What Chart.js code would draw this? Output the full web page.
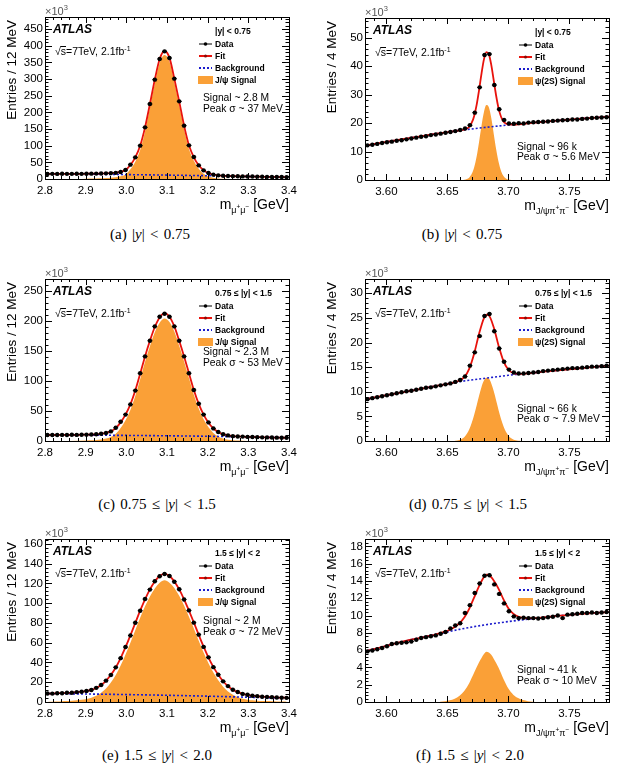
<!DOCTYPE html>
<html>
<head>
<meta charset="utf-8">
<title>J/psi and psi(2S) mass fits</title>
<script src="https://cdn.jsdelivr.net/npm/chart.js@4.4.1/dist/chart.umd.min.js"></script>
<style>
  html, body { margin: 0; padding: 0; background: #fff; }
  body { width: 617px; height: 767px; position: relative; overflow: hidden; }
  canvas { position: absolute; }
  .cap { position: absolute; font-family: 'Liberation Serif', 'Times New Roman', serif; font-size: 15px; word-spacing: 1.5px; color: #000; white-space: nowrap; transform: translateX(-50%); }
</style>
</head>
<body>
<div class="cap" style="left:150px;top:226px">(a) |<i>y</i>| &lt; 0.75</div>
<div class="cap" style="left:462px;top:226px">(b) |<i>y</i>| &lt; 0.75</div>
<div class="cap" style="left:157px;top:496px">(c) 0.75 &le; |<i>y</i>| &lt; 1.5</div>
<div class="cap" style="left:468px;top:496px">(d) 0.75 &le; |<i>y</i>| &lt; 1.5</div>
<div class="cap" style="left:157px;top:747px">(e) 1.5 &le; |<i>y</i>| &lt; 2.0</div>
<div class="cap" style="left:470px;top:747px">(f) 1.5 &le; |<i>y</i>| &lt; 2.0</div>
<script>
var FONT = "'Liberation Sans', Arial, sans-serif";
Chart.defaults.font.family = FONT;

// bin centres: J/psi plots 2.8-3.4 GeV in 12 MeV bins, psi(2S) plots 4 MeV bins
function centers(lo, w, n) {
    var c = [];
    for (var i = 0; i < n; i++) c.push(+(lo + w * (i + 0.5)).toFixed(5));
    return c;
}
var jpsiX = centers(2.8, 0.012, 50);
var psiX = centers(3.5825, 0.004, 50);

var xTicksJpsi = [2.8, 2.9, 3.0, 3.1, 3.2, 3.3, 3.4];
var xTicksPsi = [3.60, 3.65, 3.70, 3.75];
var yTicksA = [0, 50, 100, 150, 200, 250, 300, 350, 400, 450];
var yTicksB = [0, 10, 20, 30, 40, 50];
var yTicksC = [0, 50, 100, 150, 200, 250];
var yTicksD = [0, 5, 10, 15, 20, 25, 30];
var yTicksE = [0, 20, 40, 60, 80, 100, 120, 140, 160];
var yTicksF = [0, 2, 4, 6, 8, 10, 12, 14, 16, 18];

// (a) J/psi, |y| < 0.75  (entries in thousands)
var dataA = [15.2, 15.5, 15.3, 15.6, 15.4, 15.5, 15.7, 15.5, 15.8, 16.0,
    16.2, 16.3, 16.9, 17.5, 18.5, 21, 27, 43, 65, 100,
    155, 225, 298, 360, 383, 363, 301, 233, 160, 101,
    66, 41, 26, 18, 13, 11, 9.8, 9, 8.5, 8.1,
    7.8, 7.5, 7.3, 7.1, 6.8, 6.5, 6.3, 6.2, 5.9, 5.7];
var fitA = [15.4, 15.4, 15.4, 15.4, 15.5, 15.5, 15.5, 15.6, 15.7, 15.9,
    16.1, 16.4, 16.9, 17.6, 19, 21.5, 27, 42, 65, 100,
    155, 225, 298, 360, 384, 364, 301, 233, 160, 101,
    65, 41, 26, 17.5, 13, 10.8, 9.6, 8.9, 8.4, 8.1,
    7.8, 7.5, 7.3, 7.0, 6.8, 6.5, 6.3, 6.1, 5.9, 5.7];
var bkgXJpsi = [2.8, 2.9, 3.0, 3.1, 3.2, 3.3, 3.4];
var bkgA = [15.4, 14.5, 13.2, 11.7, 9.8, 7.8, 5.7];
var sigXA = [2.88, 2.902, 2.914, 2.926, 2.938, 2.950, 2.962, 2.974, 2.986, 2.998, 3.010,
    3.022, 3.034, 3.046, 3.058, 3.070, 3.082, 3.094, 3.106, 3.118, 3.130, 3.142, 3.154,
    3.166, 3.178, 3.190, 3.202, 3.214, 3.226, 3.238, 3.250, 3.28];
var sigA = [0, 0.8, 1.2, 1.5, 2, 3, 4, 5.5, 8, 13.8, 29,
    52, 87, 142.5, 212.7, 285.8, 348, 372.2, 352.4, 289.7, 221.9, 149.1, 90.3,
    54.6, 30.8, 16, 7.7, 3.5, 1.5, 0.6, 0.2, 0];

// (c) J/psi, 0.75 <= |y| < 1.5
var dataC = [10.1, 9.9, 10.0, 10.2, 10.0, 10.3, 10.2, 10.5, 10.6, 10.9,
    11.2, 12.1, 13.4, 16, 22, 32, 44, 61, 84, 113,
    141, 167, 191, 207, 212, 207, 191, 167, 141, 113,
    85, 62, 44, 31, 21, 15, 11.2, 9.3, 8.1, 7.6,
    7.3, 6.8, 6.7, 6.4, 6.1, 6.0, 5.9, 5.6, 5.5, 5.4];
var fitC = [10.0, 10.0, 10.0, 10.1, 10.1, 10.2, 10.3, 10.4, 10.6, 10.8,
    11.2, 12, 13.5, 16, 21.5, 31, 44, 61, 84, 112,
    141, 167, 190, 206, 213, 207, 191, 167, 141, 113,
    85, 62, 44, 30.5, 21, 15, 11.3, 9.3, 8.2, 7.6,
    7.2, 6.9, 6.6, 6.4, 6.2, 6.0, 5.8, 5.6, 5.5, 5.4];
var bkgC = [10.0, 9.7, 9.3, 8.7, 7.9, 6.7, 5.4];
var sigXC = [2.86, 2.902, 2.914, 2.926, 2.938, 2.950, 2.962, 2.974, 2.986, 2.998, 3.010,
    3.022, 3.034, 3.046, 3.058, 3.070, 3.082, 3.094, 3.106, 3.118, 3.130, 3.142, 3.154,
    3.166, 3.178, 3.190, 3.202, 3.214, 3.226, 3.238, 3.250, 3.262, 3.274, 3.286, 3.31];
var sigC = [0, 0.9, 1.15, 1.6, 2.45, 4, 6.55, 12.1, 21.65, 34.7, 51.75,
    74.8, 102.9, 132, 158, 181.2, 197.2, 204.3, 198.4, 182.5, 158.6, 132.7, 104.8,
    76.9, 54, 36.1, 22.75, 13.4, 7.55, 4, 2.15, 1.2, 0.75, 0.4, 0];

// (e) J/psi, 1.5 <= |y| < 2
var dataE = [8.6, 8.5, 8.8, 8.9, 9.3, 9.4, 10.0, 10.3, 11.2, 12.2,
    14.3, 17.2, 21.6, 27.4, 35.1, 44.4, 55.6, 67.3, 80.2, 92.4,
    104.2, 113.8, 122.2, 127.3, 129.5, 127.6, 121.8, 114.2, 103.8, 92.7,
    80.3, 68.2, 55.8, 45.2, 35.3, 27.6, 20.9, 16.1, 12.4, 10.1,
    8.2, 7.3, 6.3, 5.9, 5.3, 5.1, 4.9, 4.5, 4.4, 4.2];
var fitE = [8.5, 8.6, 8.8, 9.0, 9.2, 9.5, 9.9, 10.4, 11.1, 12.3,
    14.2, 17.3, 21.5, 27.5, 35, 44.5, 55.5, 67.5, 80, 92.5,
    104, 114, 122, 127.5, 130, 127.5, 122, 114, 104, 92.5,
    80.5, 68, 56, 45, 35.5, 27.5, 21, 16, 12.5, 10,
    8.3, 7.2, 6.4, 5.8, 5.4, 5.1, 4.8, 4.6, 4.4, 4.3];
var bkgE = [8.5, 8.1, 7.5, 6.8, 5.9, 4.8, 3.6];
var sigE = [0, 0.2, 0.4, 0.7, 0.9, 1.3, 1.7, 2.2, 3, 4.3,
    6.3, 9.4, 13.7, 19.8, 27.3, 36.9, 48, 60.1, 72.7, 85.2,
    96.8, 106.9, 115, 120.6, 123.2, 120.8, 115.4, 107.5, 97.6, 86.2,
    74.3, 61.9, 50, 39.1, 29.8, 21.9, 15.5, 10.7, 7.3, 4.9,
    3.4, 2.4, 1.7, 1.3, 1, 0.9, 0.7, 0.6, 0.6, 0.6];

// (b) psi(2S), |y| < 0.75
var dataB = [12.2, 12.4, 12.7, 13.0, 13.3, 13.5, 13.8, 14.0, 14.3, 14.6,
    14.9, 15.2, 15.4, 15.8, 16.0, 16.3, 16.6, 16.9, 17.2, 17.6,
    18.1, 19.3, 23.7, 32.6, 44.0, 44.3, 33.4, 24.9, 21.1, 19.9,
    19.8, 20.0, 19.9, 20.2, 20.3, 20.4, 20.5, 20.6, 20.8, 20.9,
    21.0, 21.1, 21.3, 21.3, 21.5, 21.6, 21.8, 21.9, 22.0, 22.1];
var fitXB = [3.5825, 3.60, 3.62, 3.64, 3.656, 3.660, 3.664, 3.666, 3.668, 3.670, 3.672, 3.674,
    3.676, 3.678, 3.680, 3.682, 3.684, 3.686, 3.688, 3.690, 3.692, 3.694, 3.696, 3.698,
    3.700, 3.704, 3.72, 3.74, 3.76, 3.7825];
var fitB = [12.1, 13.4, 14.8, 16.2, 17.2, 17.45, 17.75, 18.1, 18.75, 20.15, 22.55, 26.45,
    31.65, 37.45, 42.45, 45.0, 44.3, 40.5, 35.1, 29.65, 25.2, 22.25, 20.6, 19.85,
    19.55, 19.5, 20.15, 20.9, 21.6, 22.3];
var bkgXPsi = [3.5825, 3.60, 3.62, 3.64, 3.66, 3.68, 3.70, 3.72, 3.74, 3.76, 3.7825];
var bkgB = [12.1, 13.4, 14.8, 16.2, 17.45, 18.45, 19.35, 20.15, 20.9, 21.6, 22.3];
var sigXB = [3.662, 3.664, 3.666, 3.668, 3.670, 3.672, 3.674, 3.676, 3.678, 3.680, 3.682,
    3.684, 3.686, 3.688, 3.690, 3.692, 3.694, 3.696, 3.698, 3.700, 3.702];
var sigB = [0.03, 0.11, 0.34, 0.92, 2.2, 4.5, 8.3, 13.4, 19.1, 23.9, 26.4,
    25.6, 21.8, 16.3, 10.8, 6.3, 3.2, 1.45, 0.57, 0.2, 0.06];

// (d) psi(2S), 0.75 <= |y| < 1.5
var dataD = [8.5, 8.7, 8.9, 9.1, 9.3, 9.5, 9.7, 9.9, 10.1, 10.2,
    10.4, 10.6, 10.8, 10.9, 11.1, 11.3, 11.5, 11.7, 12.0, 12.4,
    13.1, 15.3, 18.0, 21.3, 25.4, 25.8, 22.3, 18.8, 16.1, 14.5,
    13.9, 13.7, 13.7, 13.8, 13.9, 14.0, 14.2, 14.3, 14.4, 14.5,
    14.6, 14.7, 14.8, 14.8, 14.9, 15.0, 15.1, 15.1, 15.2, 15.3];
var fitXD = [3.5825, 3.60, 3.62, 3.64, 3.656, 3.660, 3.664, 3.668, 3.672, 3.676, 3.680, 3.682,
    3.684, 3.688, 3.692, 3.696, 3.700, 3.704, 3.708, 3.712, 3.72, 3.74, 3.76, 3.7825];
var fitD = [8.45, 9.3, 10.2, 11.15, 11.92, 12.27, 13.01, 14.71, 17.77, 21.77, 24.97, 25.64,
    25.5, 23.09, 19.35, 16.22, 14.46, 13.77, 13.62, 13.66, 13.85, 14.35, 14.8, 15.3];
var bkgD = [8.45, 9.3, 10.2, 11.15, 12.05, 12.7, 13.35, 13.85, 14.35, 14.8, 15.3];
var sigXD = [3.656, 3.658, 3.660, 3.662, 3.664, 3.666, 3.668, 3.670, 3.672, 3.674,
    3.676, 3.678, 3.680, 3.682, 3.684, 3.686, 3.688, 3.690, 3.692, 3.694,
    3.696, 3.698, 3.700, 3.702, 3.704, 3.706, 3.708, 3.710];
var sigD = [0.05, 0.1, 0.22, 0.45, 0.83, 1.46, 2.4, 3.69, 5.33, 7.23,
    9.2, 10.97, 12.27, 12.87, 12.67, 11.7, 10.13, 8.22, 6.26, 4.47,
    3.0, 1.88, 1.11, 0.61, 0.32, 0.155, 0.07, 0.03];

// (f) psi(2S), 1.5 <= |y| < 2
var dataF = [5.85, 5.95, 6.1, 6.25, 6.45, 6.7, 6.8, 6.85, 6.9, 7.0,
    7.2, 7.4, 7.5, 7.6, 7.7, 7.9, 8.1, 8.5, 8.85, 9.1,
    10.3, 11.2, 12.6, 13.7, 14.6, 14.65, 13.6, 12.5, 11.4, 10.5,
    9.9, 9.7, 9.75, 9.7, 9.7, 9.65, 9.7, 9.8, 9.85, 10.0,
    9.7, 10.1, 10.15, 10.2, 10.3, 10.3, 10.35, 10.3, 10.35, 10.4];
var fitXF = [3.5825, 3.60, 3.62, 3.64, 3.648, 3.652, 3.656, 3.660, 3.664, 3.668,
    3.672, 3.676, 3.680, 3.682, 3.684, 3.688, 3.692, 3.696, 3.700, 3.704,
    3.708, 3.712, 3.716, 3.72, 3.74, 3.76, 3.7825];
var fitF = [5.85, 6.5, 7.2, 7.8, 8.14, 8.36, 8.66, 9.12, 9.8, 10.8,
    12.1, 13.4, 14.45, 14.74, 14.7, 14.06, 13.09, 11.87, 10.85, 10.22,
    9.89, 9.73, 9.68, 9.69, 9.95, 10.2, 10.4];
var bkgF = [5.85, 6.5, 7.2, 7.8, 8.4, 8.9, 9.3, 9.65, 9.95, 10.2, 10.4];
var sigXF = [3.644, 3.648, 3.652, 3.656, 3.660, 3.664, 3.668, 3.672, 3.676, 3.678, 3.680, 3.682,
    3.684, 3.686, 3.688, 3.692, 3.696, 3.700, 3.704, 3.708, 3.712, 3.716, 3.720, 3.724];
var sigF = [0.04, 0.1, 0.2, 0.38, 0.72, 1.3, 2.2, 3.4, 4.6, 5.1, 5.55, 5.8,
    5.72, 5.45, 5.0, 3.95, 2.65, 1.55, 0.85, 0.45, 0.22, 0.1, 0.04, 0.01];

function pts(xs, ys) {
    return ys.map(function (v, i) { return { x: xs[i], y: v }; });
}

function stepVals(min, max, step) {
    var out = [];
    var k0 = Math.ceil(min / step - 1e-6), k1 = Math.floor(max / step + 1e-6);
    for (var k = k0; k <= k1; k++) out.push(k * step);
    return out;
}

function rich(ctx, x, y, parts, align) {
    var w = 0;
    parts.forEach(function (q) {
        ctx.font = (q.f || '') + ' ' + q.s + 'px ' + FONT;
        w += ctx.measureText(q.t).width;
    });
    var cx = align === 'right' ? x - w : x;
    parts.forEach(function (q) {
        ctx.font = (q.f || '') + ' ' + q.s + 'px ' + FONT;
        ctx.fillText(q.t, cx, y + (q.dy || 0));
        cx += ctx.measureText(q.t).width;
    });
}

var xTitleJpsi = [{ t: 'm', s: 14 }, { t: 'μ', s: 9, dy: 3.5 }, { t: '+', s: 6.5, dy: -0.5 },
    { t: 'μ', s: 9, dy: 3.5 }, { t: '−', s: 6.5, dy: -0.5 }, { t: ' [GeV]', s: 14 }];
var xTitlePsi = [{ t: 'm', s: 14 }, { t: 'J/ψπ', s: 9, dy: 3.5 }, { t: '+', s: 6.5, dy: -0.5 },
    { t: 'π', s: 9, dy: 3.5 }, { t: '−', s: 6.5, dy: -0.5 }, { t: ' [GeV]', s: 14 }];

function decor(p) {
    return {
        id: 'decor',
        afterDatasetsDraw: function (chart) {
            // horizontal bin-width bars on the data points
            var ctx = chart.ctx, a = chart.chartArea, xs = chart.scales.x, ys = chart.scales.y;
            ctx.save();
            ctx.beginPath();
            ctx.rect(a.left, a.top, a.right - a.left, a.bottom - a.top);
            ctx.clip();
            ctx.strokeStyle = '#000';
            ctx.lineWidth = 1;
            ctx.beginPath();
            p.dataY.forEach(function (v, i) {
                var y = ys.getPixelForValue(v);
                ctx.moveTo(xs.getPixelForValue(p.dataX[i] - p.half), y);
                ctx.lineTo(xs.getPixelForValue(p.dataX[i] + p.half), y);
            });
            ctx.stroke();
            ctx.restore();
        },
        afterDraw: function (chart) {
            var ctx = chart.ctx, a = chart.chartArea, xs = chart.scales.x, ys = chart.scales.y;
            ctx.save();
            ctx.strokeStyle = '#000';
            ctx.fillStyle = '#000';
            ctx.lineWidth = 1;
            ctx.strokeRect(a.left + 0.5, a.top + 0.5, a.right - a.left, a.bottom - a.top);

            // inward ticks on all four sides
            ctx.beginPath();
            stepVals(p.xMin, p.xMax, p.xMinor).forEach(function (v) {
                var px = Math.round(xs.getPixelForValue(v)) + 0.5;
                ctx.moveTo(px, a.bottom); ctx.lineTo(px, a.bottom - 3);
                ctx.moveTo(px, a.top); ctx.lineTo(px, a.top + 3);
            });
            p.xTicks.forEach(function (v) {
                var px = Math.round(xs.getPixelForValue(v)) + 0.5;
                ctx.moveTo(px, a.bottom); ctx.lineTo(px, a.bottom - 6);
                ctx.moveTo(px, a.top); ctx.lineTo(px, a.top + 6);
            });
            stepVals(0, p.yMax, p.yMinor).forEach(function (v) {
                var py = Math.round(ys.getPixelForValue(v)) + 0.5;
                ctx.moveTo(a.left, py); ctx.lineTo(a.left + 3.5, py);
                ctx.moveTo(a.right, py); ctx.lineTo(a.right - 3.5, py);
            });
            p.yTicks.forEach(function (v) {
                var py = Math.round(ys.getPixelForValue(v)) + 0.5;
                ctx.moveTo(a.left, py); ctx.lineTo(a.left + 7, py);
                ctx.moveTo(a.right, py); ctx.lineTo(a.right - 7, py);
            });
            ctx.stroke();

            ctx.textAlign = 'left';
            ctx.textBaseline = 'alphabetic';

            // axis titles
            ctx.save();
            ctx.translate(a.left - 33, a.top + 3);
            ctx.rotate(-Math.PI / 2);
            ctx.textAlign = 'right';
            ctx.textBaseline = 'middle';
            ctx.font = '13.5px ' + FONT;
            ctx.fillText(p.yTitle, 0, 0);
            ctx.restore();
            rich(ctx, a.right, a.bottom + 30, p.xTitle, 'right');

            // x10^3 multiplier
            ctx.fillStyle = '#555';
            rich(ctx, a.left, a.top - 2, [{ t: '×10', s: 11 }, { t: '3', s: 7.5, dy: -5 }]);
            ctx.fillStyle = '#000';

            // ATLAS label and energy / luminosity
            ctx.font = 'italic bold 12px ' + FONT;
            ctx.fillText('ATLAS', a.left + 8, a.top + 16);
            ctx.font = '10.5px ' + FONT;
            var ex = a.left + 10, ey = a.top + 38;
            ctx.fillText('√', ex, ey);
            var w1 = ctx.measureText('√').width, ws = ctx.measureText('s').width;
            ctx.fillText('s', ex + w1, ey);
            ctx.beginPath();
            ctx.moveTo(ex + w1 - 0.5, ey - 8.5);
            ctx.lineTo(ex + w1 + ws, ey - 8.5);
            ctx.stroke();
            rich(ctx, ex + w1 + ws, ey, [{ t: '=7TeV, 2.1fb', s: 10.5 }, { t: '-1', s: 7, dy: -4.5 }]);

            // legend
            var mx0 = a.left + 154, mx1 = a.left + 167, tx = a.left + 170, ty = a.top;
            ctx.font = 'bold 8.5px ' + FONT;
            ctx.fillText(p.rapidity, tx, ty + 17);
            ctx.fillText('Data', tx, ty + 30);
            ctx.fillText('Fit', tx, ty + 42);
            ctx.fillText('Background', tx, ty + 54);
            ctx.fillText(p.sigName, tx, ty + 66);
            var my = ty + 27;
            ctx.beginPath();
            ctx.moveTo(mx0, my); ctx.lineTo(mx1, my);
            ctx.stroke();
            ctx.beginPath();
            ctx.arc((mx0 + mx1) / 2, my, 1.8, 0, Math.PI * 2);
            ctx.fill();
            my = ty + 39;
            ctx.strokeStyle = '#e8120c';
            ctx.lineWidth = 2;
            ctx.beginPath();
            ctx.moveTo(mx0, my); ctx.lineTo(mx1, my);
            ctx.stroke();
            ctx.fillStyle = '#8a0a06';
            ctx.beginPath();
            ctx.arc((mx0 + mx1) / 2, my, 1.5, 0, Math.PI * 2);
            ctx.fill();
            my = ty + 51;
            ctx.strokeStyle = '#1c1ccc';
            ctx.setLineDash([2, 2]);
            ctx.beginPath();
            ctx.moveTo(mx0, my); ctx.lineTo(mx1, my);
            ctx.stroke();
            ctx.setLineDash([]);
            ctx.fillStyle = 'rgb(250,160,55)';
            ctx.fillRect(mx0 - 1, ty + 59, 15, 8);

            // signal yield / width note
            ctx.fillStyle = '#000';
            ctx.font = '10.3px ' + FONT;
            ctx.fillText(p.note[0], a.left + p.noteX, a.top + p.noteY[0]);
            ctx.fillText(p.note[1], a.left + p.noteX, a.top + p.noteY[1]);
            ctx.restore();
        }
    };
}

function makePanel(p) {
    var top = p.frame[1] - 18;
    var h = (p.frame[3] - p.frame[1]) + 18 + 42;
    var cv = document.createElement('canvas');
    cv.width = p.canvasW;
    cv.height = h;
    cv.style.left = p.canvasX + 'px';
    cv.style.top = top + 'px';
    document.body.appendChild(cv);
    var axisW = p.frame[0] - p.canvasX;
    var padR = p.canvasX + p.canvasW - p.frame[2];

    new Chart(cv.getContext('2d'), {
        type: 'scatter',
        data: {
            datasets: [{
                label: 'Data',
                data: pts(p.dataX, p.dataY),
                pointRadius: 2.2,
                pointBackgroundColor: '#000',
                pointBorderWidth: 0,
                order: 0
            }, {
                label: 'Fit',
                type: 'line',
                data: pts(p.fitX, p.fitY),
                borderColor: '#e8120c',
                borderWidth: 1.8,
                pointRadius: 0,
                cubicInterpolationMode: 'monotone',
                fill: false,
                order: 1
            }, {
                label: 'Background',
                type: 'line',
                data: pts(p.bkgX, p.bkgY),
                borderColor: '#1c1ccc',
                borderWidth: 1.6,
                borderDash: [2, 2],
                pointRadius: 0,
                cubicInterpolationMode: 'monotone',
                fill: false,
                order: 2
            }, {
                label: 'Signal',
                type: 'line',
                data: pts(p.sigX, p.sigY),
                borderColor: 'rgba(0,0,0,0)',
                borderWidth: 0,
                backgroundColor: 'rgb(250,160,55)',
                pointRadius: 0,
                cubicInterpolationMode: 'monotone',
                fill: 'origin',
                order: 3
            }]
        },
        options: {
            responsive: false,
            animation: false,
            events: [],
            layout: { padding: { top: 18, right: padR, left: 0, bottom: 0 } },
            plugins: { legend: { display: false }, tooltip: { enabled: false } },
            scales: {
                x: {
                    type: 'linear',
                    min: p.xMin,
                    max: p.xMax,
                    grid: { display: false, drawTicks: false },
                    border: { display: false },
                    ticks: {
                        autoSkip: false, maxRotation: 0, padding: 5, color: '#000',
                        font: { size: 11.5 },
                        callback: function (v) { return v.toFixed(p.xDec); }
                    },
                    afterBuildTicks: function (s) {
                        s.ticks = p.xTicks.map(function (v) { return { value: v }; });
                    },
                    afterFit: function (s) { s.height = 42; }
                },
                y: {
                    type: 'linear',
                    min: 0,
                    max: p.yMax,
                    grid: { display: false, drawTicks: false },
                    border: { display: false },
                    ticks: {
                        autoSkip: false, padding: 2, color: '#000',
                        font: { size: 11.5 },
                        callback: function (v) { return String(v); }
                    },
                    afterBuildTicks: function (s) {
                        s.ticks = p.yTicks.map(function (v) { return { value: v }; });
                    },
                    afterFit: function (s) { s.width = axisW; }
                }
            }
        },
        plugins: [decor(p)]
    });
}

var jpsiAxis = { xMin: 2.8, xMax: 3.4, xTicks: xTicksJpsi, xDec: 1, xMinor: 0.02, half: 0.006,
    yTitle: 'Entries / 12 MeV', xTitle: xTitleJpsi, sigName: 'J/ψ Signal', canvasX: 0, canvasW: 305, noteX: 158 };
var psiAxis = { xMin: 3.5825, xMax: 3.7825, xTicks: xTicksPsi, xDec: 2, xMinor: 0.01, half: 0.002,
    yTitle: 'Entries / 4 MeV', xTitle: xTitlePsi, sigName: 'ψ(2S) Signal', canvasX: 305, canvasW: 312, noteX: 152 };

function panel(base, extra) {
    var p = {};
    Object.keys(base).forEach(function (k) { p[k] = base[k]; });
    Object.keys(extra).forEach(function (k) { p[k] = extra[k]; });
    makePanel(p);
}

panel(jpsiAxis, { frame: [45, 17, 289, 179], dataX: jpsiX, dataY: dataA, fitX: jpsiX, fitY: fitA,
    bkgX: bkgXJpsi, bkgY: bkgA, sigX: sigXA, sigY: sigA, yMax: 486, yTicks: yTicksA, yMinor: 10,
    rapidity: '|y| < 0.75', note: ['Signal ~ 2.8 M', 'Peak σ ~ 37 MeV'], noteY: [84, 95] });
panel(psiAxis, { frame: [365, 18, 609, 180], dataX: psiX, dataY: dataB, fitX: fitXB, fitY: fitB,
    bkgX: bkgXPsi, bkgY: bkgB, sigX: sigXB, sigY: sigB, yMax: 57, yTicks: yTicksB, yMinor: 2,
    rapidity: '|y| < 0.75', note: ['Signal ~ 96 k', 'Peak σ ~ 5.6 MeV'], noteY: [132, 142] });
panel(jpsiAxis, { frame: [45, 279, 289, 441], dataX: jpsiX, dataY: dataC, fitX: jpsiX, fitY: fitC,
    bkgX: bkgXJpsi, bkgY: bkgC, sigX: sigXC, sigY: sigC, yMax: 270, yTicks: yTicksC, yMinor: 10,
    rapidity: '0.75 ≤ |y| < 1.5', note: ['Signal ~ 2.3 M', 'Peak σ ~ 53 MeV'], noteY: [76, 87] });
panel(psiAxis, { frame: [365, 279, 609, 441], dataX: psiX, dataY: dataD, fitX: fitXD, fitY: fitD,
    bkgX: bkgXPsi, bkgY: bkgD, sigX: sigXD, sigY: sigD, yMax: 32.9, yTicks: yTicksD, yMinor: 1,
    rapidity: '0.75 ≤ |y| < 1.5', note: ['Signal ~ 66 k', 'Peak σ ~ 7.9 MeV'], noteY: [133, 143] });
panel(jpsiAxis, { frame: [45, 539, 289, 702], dataX: jpsiX, dataY: dataE, fitX: jpsiX, fitY: fitE,
    bkgX: bkgXJpsi, bkgY: bkgE, sigX: jpsiX, sigY: sigE, yMax: 165, yTicks: yTicksE, yMinor: 4,
    rapidity: '1.5 ≤ |y| < 2', note: ['Signal ~ 2 M', 'Peak σ ~ 72 MeV'], noteY: [85, 96] });
panel(psiAxis, { frame: [365, 539, 609, 702], dataX: psiX, dataY: dataF, fitX: fitXF, fitY: fitF,
    bkgX: bkgXPsi, bkgY: bkgF, sigX: sigXF, sigY: sigF, yMax: 18.85, yTicks: yTicksF, yMinor: 0.4,
    rapidity: '1.5 ≤ |y| < 2', note: ['Signal ~ 41 k', 'Peak σ ~ 10 MeV'], noteY: [134, 145] });
</script>
</body>
</html>
